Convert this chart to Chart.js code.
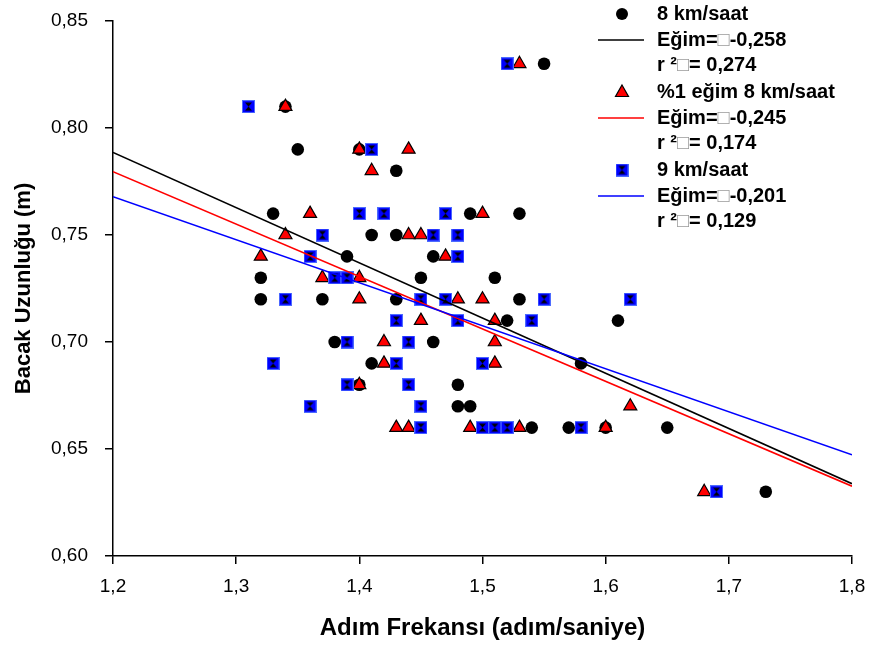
<!DOCTYPE html>
<html>
<head>
<meta charset="utf-8">
<script src="https://cdn.jsdelivr.net/npm/chart.js@4.4.1/dist/chart.umd.min.js"></script>
<style>
    body { margin: 0; background: #fff; }
    #wrap { width: 870px; height: 651px; }
</style>
</head>
<body>
<div id="wrap"><canvas id="legChart" width="870" height="651"></canvas></div>
<script>
// 8 km/saat
var x8 = [1.34, 1.35, 1.40, 1.43, 1.33, 1.49, 1.53, 1.41, 1.43, 1.39, 1.46, 1.32, 1.45, 1.51, 1.32, 1.37, 1.43, 1.53,
          1.52, 1.61, 1.38, 1.46, 1.41, 1.50, 1.58, 1.40, 1.48, 1.48, 1.49, 1.54, 1.57, 1.60, 1.65, 1.73, 1.55];
var y8 = [0.81, 0.79, 0.79, 0.78, 0.76, 0.76, 0.76, 0.75, 0.75, 0.74, 0.74, 0.73, 0.73, 0.73, 0.72, 0.72, 0.72, 0.72,
          0.71, 0.71, 0.70, 0.70, 0.69, 0.69, 0.69, 0.68, 0.68, 0.67, 0.67, 0.66, 0.66, 0.66, 0.66, 0.63, 0.83];

// %1 eğim 8 km/saat
var xIncline = [1.34, 1.40, 1.44, 1.41, 1.36, 1.50, 1.34, 1.44, 1.45, 1.32, 1.47, 1.37, 1.40, 1.40, 1.48, 1.50,
                1.45, 1.51, 1.42, 1.51, 1.42, 1.51, 1.40, 1.62, 1.43, 1.44, 1.49, 1.53, 1.60, 1.68, 1.53];
var yIncline = [0.81, 0.79, 0.79, 0.78, 0.76, 0.76, 0.75, 0.75, 0.75, 0.74, 0.74, 0.73, 0.73, 0.72, 0.72, 0.72,
                0.71, 0.71, 0.70, 0.70, 0.69, 0.69, 0.68, 0.67, 0.66, 0.66, 0.66, 0.66, 0.66, 0.63, 0.83];

// 9 km/saat
var x9 = [1.31, 1.52, 1.41, 1.40, 1.42, 1.47, 1.37, 1.46, 1.48, 1.36, 1.48, 1.38, 1.39, 1.34, 1.45, 1.47, 1.55, 1.62,
          1.43, 1.48, 1.54, 1.39, 1.44, 1.33, 1.43, 1.50, 1.39, 1.44, 1.36, 1.45, 1.45, 1.50, 1.51, 1.52, 1.58, 1.69];
var y9 = [0.81, 0.83, 0.79, 0.76, 0.76, 0.76, 0.75, 0.75, 0.75, 0.74, 0.74, 0.73, 0.73, 0.72, 0.72, 0.72, 0.72, 0.72,
          0.71, 0.71, 0.71, 0.70, 0.70, 0.69, 0.69, 0.69, 0.68, 0.68, 0.67, 0.67, 0.66, 0.66, 0.66, 0.66, 0.66, 0.63];

// regression lines (slope, intercept), drawn over the x range
var fitSlope = [-0.258, -0.245, -0.201];
var fitIntercept = [1.0982, 1.0736, 1.0091];
var fitRange = [1.2, 1.8];

var seriesNames = ['8 km/saat', '%1 eğim 8 km/saat', '9 km/saat'];
var slopeLabels = ['Eğim=\u25A1-0,258', 'Eğim=\u25A1-0,245', 'Eğim=\u25A1-0,201'];
var r2Labels = ['r \u00B2\u25A1= 0,274', 'r \u00B2\u25A1= 0,174', 'r \u00B2\u25A1= 0,129'];
var lineColors = ['#000000', '#ff0000', '#0000ff'];

var xTickValues = [1.2, 1.3, 1.4, 1.5, 1.6, 1.7, 1.8];
var xTickLabels = ['1,2', '1,3', '1,4', '1,5', '1,6', '1,7', '1,8'];
var yTickValues = [0.60, 0.65, 0.70, 0.75, 0.80, 0.85];
var yTickLabels = ['0,60', '0,65', '0,70', '0,75', '0,80', '0,85'];

var FONT = '"Liberation Sans", Arial, sans-serif';

function pairs(xs, ys) {
    return xs.map(function (x, i) { return { x: x, y: ys[i] }; });
}

function fitPoints(k) {
    return fitRange.map(function (x) { return { x: x, y: fitSlope[k] * x + fitIntercept[k] }; });
}

// blue square with black hourglass, like the SigmaPlot symbol
function makeSquare() {
    var c = document.createElement('canvas');
    c.width = 13;
    c.height = 13;
    var g = c.getContext('2d');
    g.fillStyle = '#4d6bff';
    g.fillRect(0, 0, 13, 13);
    g.fillStyle = '#0000ff';
    g.fillRect(1, 1, 11, 11);
    g.fillStyle = '#000';
    g.beginPath();
    g.moveTo(3, 2.5); g.lineTo(10, 2.5); g.lineTo(6.5, 6.5); g.closePath();
    g.moveTo(3, 10.5); g.lineTo(10, 10.5); g.lineTo(6.5, 6.5); g.closePath();
    g.fill();
    return c;
}
var squareImg = makeSquare();

var sideLegend = {
    id: 'sideLegend',
    afterDraw: function (chart) {
        var ctx = chart.ctx;
        ctx.save();
        ctx.font = 'bold 20px ' + FONT;
        ctx.textBaseline = 'middle';
        ctx.textAlign = 'left';

        function text(str, x, y) {
            var parts = str.split('\u25A1');
            for (var p = 0; p < parts.length; p++) {
                ctx.fillStyle = '#000';
                ctx.fillText(parts[p], x, y);
                x += ctx.measureText(parts[p]).width;
                if (p < parts.length - 1) {
                    ctx.fillStyle = '#9a9a9a';
                    ctx.fillText('\u25A1', x, y);
                    x += ctx.measureText('\u25A1').width;
                }
            }
        }

        for (var i = 0; i < 3; i++) {
            var top = 14 + i * 78;
            var mx = 622;
            if (i === 0) {
                ctx.fillStyle = '#000';
                ctx.beginPath();
                ctx.arc(mx, top, 6, 0, Math.PI * 2);
                ctx.fill();
            } else if (i === 1) {
                ctx.fillStyle = '#ff0000';
                ctx.strokeStyle = '#000';
                ctx.lineWidth = 1.2;
                ctx.beginPath();
                ctx.moveTo(mx, top - 7);
                ctx.lineTo(mx + 6.5, top + 4.5);
                ctx.lineTo(mx - 6.5, top + 4.5);
                ctx.closePath();
                ctx.fill();
                ctx.stroke();
            } else {
                ctx.drawImage(squareImg, mx - 6.5, top - 6.5);
            }
            text(seriesNames[i], 657, top);

            ctx.strokeStyle = lineColors[i];
            ctx.lineWidth = 1.5;
            ctx.beginPath();
            ctx.moveTo(598, top + 26);
            ctx.lineTo(644, top + 26);
            ctx.stroke();
            text(slopeLabels[i], 657, top + 26);
            text(r2Labels[i], 657, top + 51);
        }
        ctx.restore();
    }
};

var datasets = [
    { label: seriesNames[0], data: pairs(x8, y8), pointStyle: 'circle', pointRadius: 6.3,
      backgroundColor: '#000', borderColor: '#000', borderWidth: 0, order: 5 },
    { label: seriesNames[1], data: pairs(xIncline, yIncline), pointStyle: 'triangle', pointRadius: 7.5,
      backgroundColor: '#ff0000', borderColor: '#000', borderWidth: 1.2, order: 4 },
    { label: seriesNames[2], data: pairs(x9, y9), pointStyle: squareImg, pointRadius: 6.5,
      backgroundColor: '#0000ff', borderColor: '#0000ff', order: 3 }
];
for (var k = 0; k < 3; k++) {
    datasets.push({
        label: slopeLabels[k], data: fitPoints(k), showLine: true, pointRadius: 0,
        borderColor: lineColors[k], borderWidth: 1.6, fill: false, order: 2 - k
    });
}

Chart.defaults.font.family = FONT;
Chart.defaults.color = '#000';

new Chart(document.getElementById('legChart'), {
    type: 'scatter',
    data: { datasets: datasets },
    options: {
        responsive: false,
        animation: false,
        devicePixelRatio: 1,
        layout: { padding: { top: 21, right: 18, left: 0, bottom: 0 } },
        plugins: { legend: { display: false }, tooltip: { enabled: false } },
        scales: {
            x: {
                type: 'linear', min: 1.2, max: 1.8,
                afterBuildTicks: function (s) { s.ticks = xTickValues.map(function (v) { return { value: v }; }); },
                afterFit: function (s) {
                    s.height = 95;
                    s.paddingLeft = 0; s.paddingRight = 0; s.paddingTop = 0; s.paddingBottom = 0;
                },
                ticks: {
                    callback: function (v, i) { return xTickLabels[i]; },
                    font: { size: 19 }, color: '#000', padding: 11, maxRotation: 0, autoSkip: false
                },
                grid: { drawOnChartArea: false, drawTicks: true, tickLength: 8, color: '#000', lineWidth: 1.5 },
                border: { display: true, color: '#000', width: 1.5 },
                title: { display: true, text: 'Adım Frekansı (adım/saniye)', color: '#000',
                         font: { size: 24, weight: 'bold' }, padding: { top: 0, bottom: 8 } }
            },
            y: {
                type: 'linear', min: 0.60, max: 0.85,
                afterBuildTicks: function (s) { s.ticks = yTickValues.map(function (v) { return { value: v }; }); },
                afterFit: function (s) {
                    s.width = 113;
                    s.paddingLeft = 0; s.paddingRight = 0; s.paddingTop = 0; s.paddingBottom = 0;
                },
                ticks: {
                    callback: function (v, i) { return yTickLabels[i]; },
                    font: { size: 19 }, color: '#000', padding: 17, autoSkip: false
                },
                grid: { drawOnChartArea: false, drawTicks: true, tickLength: 8, color: '#000', lineWidth: 1.5 },
                border: { display: true, color: '#000', width: 1.5 },
                title: { display: true, text: 'Bacak Uzunluğu (m)', color: '#000',
                         font: { size: 22, weight: 'bold' }, padding: { top: 11, bottom: 0 } }
            }
        }
    },
    plugins: [sideLegend]
});
</script>
</body>
</html>
